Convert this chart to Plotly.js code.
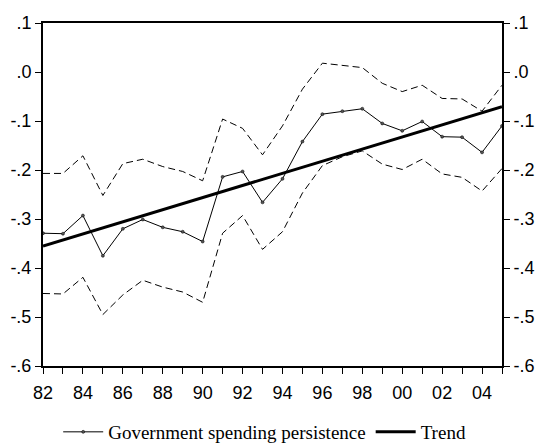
<!DOCTYPE html>
<html>
<head>
<meta charset="utf-8">
<script src="https://cdn.plot.ly/plotly-3.0.1.min.js"></script>
<style>html,body{margin:0;padding:0;background:#fff;}#chart{width:541px;height:443px;}</style>
</head>
<body>
<div id="chart"></div>
<script>
const years = [1982,1983,1984,1985,1986,1987,1988,1989,1990,1991,1992,1993,1994,1995,1996,1997,1998,1999,2000,2001,2002,2003,2004,2005];
const persistence = [-0.329,-0.330,-0.293,-0.375,-0.320,-0.301,-0.317,-0.326,-0.346,-0.214,-0.203,-0.266,-0.218,-0.142,-0.086,-0.080,-0.075,-0.105,-0.120,-0.101,-0.132,-0.133,-0.164,-0.110];
const upperBand = [-0.207,-0.207,-0.171,-0.252,-0.187,-0.178,-0.193,-0.203,-0.222,-0.096,-0.115,-0.169,-0.110,-0.035,0.018,0.014,0.009,-0.023,-0.040,-0.027,-0.054,-0.055,-0.080,-0.027];
const lowerBand = [-0.452,-0.453,-0.419,-0.495,-0.455,-0.425,-0.439,-0.449,-0.470,-0.329,-0.293,-0.362,-0.326,-0.247,-0.191,-0.173,-0.161,-0.188,-0.199,-0.178,-0.208,-0.215,-0.243,-0.197];
const trendYears = [1982, 2005];
const trendValues = [-0.355, -0.071];
const xTickVals = years;
const xTickText = ['82','','84','','86','','88','','90','','92','','94','','96','','98','','00','','02','','04',''];
const yTickVals = [0.1,0.0,-0.1,-0.2,-0.3,-0.4,-0.5,-0.6];
const yTickText = ['.1','.0','-.1','-.2','-.3','-.4','-.5','-.6'];

const traces = [
  {x: years, y: upperBand, mode: 'lines', line: {color: '#000', width: 1, dash: '7px,4px'}, showlegend: false, hoverinfo: 'skip'},
  {x: years, y: lowerBand, mode: 'lines', line: {color: '#000', width: 1, dash: '7px,4px'}, showlegend: false, hoverinfo: 'skip'},
  {x: years, y: persistence, mode: 'lines+markers', name: 'Government spending persistence',
   line: {color: '#000', width: 1}, marker: {symbol: 'circle', size: 3, color: '#555', line: {color: '#000', width: 0.5}}},
  {x: trendYears, y: trendValues, mode: 'lines', name: 'Trend', line: {color: '#000', width: 3}},
  {x: trendYears, y: trendValues, yaxis: 'y2', mode: 'lines', line: {color: 'rgba(0,0,0,0)', width: 0}, showlegend: false, hoverinfo: 'skip'}
];

const tickFont = {family: 'Liberation Sans, Arial, sans-serif', size: 18, color: '#000'};
const layout = {
  width: 541, height: 443,
  margin: {l: 43, r: 39, t: 23, b: 77, autoexpand: false},
  paper_bgcolor: '#fff', plot_bgcolor: '#fff',
  showlegend: true,
  legend: {orientation: 'h', x: 0.483, xanchor: 'center', y: -0.1924, yanchor: 'middle',
           font: {family: 'Liberation Serif, Times New Roman, serif', size: 19, color: '#000'},
           bgcolor: 'rgba(0,0,0,0)', itemwidth: 40},
  xaxis: {range: [1982, 2005], tickvals: xTickVals, ticktext: xTickText, ticks: 'outside', ticklen: 6, tickwidth: 1,
          tickcolor: '#000', showline: true, linewidth: 2, linecolor: '#000', mirror: true, showgrid: false, zeroline: false,
          tickfont: tickFont, tickangle: 0, ticklabelstandoff: 3},
  yaxis: {range: [-0.6, 0.1], tickvals: yTickVals, ticktext: yTickText, ticks: 'outside', ticklen: 6, tickwidth: 1,
          tickcolor: '#000', showline: true, linewidth: 2, linecolor: '#000', mirror: true, showgrid: false, zeroline: false,
          tickfont: tickFont},
  yaxis2: {range: [-0.6, 0.1], overlaying: 'y', side: 'right', tickvals: yTickVals, ticktext: yTickText, ticks: 'outside',
           ticklen: 6, tickwidth: 1, tickcolor: '#000', showline: true, linewidth: 2, linecolor: '#000', showgrid: false,
           zeroline: false, tickfont: tickFont}
};
Plotly.newPlot('chart', traces, layout, {displayModeBar: false, staticPlot: true});
</script>
</body>
</html>
